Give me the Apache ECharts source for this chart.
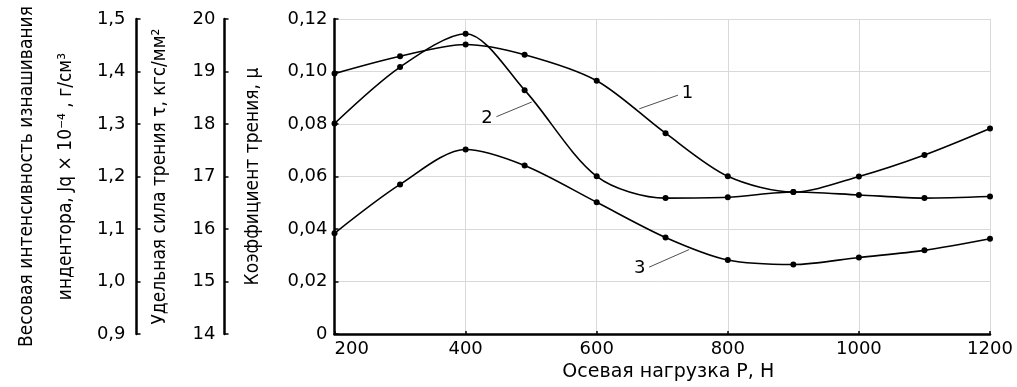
<!DOCTYPE html>
<html>
<head>
<meta charset="utf-8">
<script src="https://cdn.jsdelivr.net/npm/echarts@6/dist/echarts.min.js"></script>
<style>
  html, body { margin: 0; padding: 0; background: #fff; }
  #chart { width: 1017px; height: 387px; }
</style>
</head>
<body>
<div id="chart"></div>
<script>
// values
const loads = [200, 300, 400, 490, 600, 705, 800, 900, 1000, 1100, 1200];
const curve1 = [0.0992, 0.1058, 0.1103, 0.1064, 0.0965, 0.0765, 0.0601, 0.0541, 0.0600, 0.0682, 0.0783];
const curve2 = [0.0802, 0.1017, 0.1144, 0.0929, 0.0601, 0.0518, 0.0521, 0.0541, 0.0530, 0.0518, 0.0524];
const curve3 = [0.0384, 0.0570, 0.0703, 0.0642, 0.0502, 0.0368, 0.0282, 0.0265, 0.0292, 0.0319, 0.0363];

// leader lines for the curve numbers (from curve -> to label)
const callouts = [
  { name: '1', from: [665, 0.0858], to: [724, 0.0910] },
  { name: '2', from: [501, 0.0884], to: [447, 0.0828] },
  { name: '3', from: [741, 0.0322], to: [680, 0.0255] }
];

const tickFont = 'DejaVu Sans';
const nameFont = '"Liberation Sans Narrow", "DejaVu Sans Condensed", "Liberation Sans", sans-serif';

const comma = (v, d) => v === 0 ? '0' : v.toFixed(d).replace('.', ',');

const chart = echarts.init(document.getElementById('chart'), null, { renderer: 'canvas' });

const axisLine = { show: true, onZero: false, lineStyle: { color: '#000', width: 2.5 } };
const tickLabel = { color: '#000', fontFamily: tickFont, fontSize: 18 };

function sideAxis(min, max, interval, offset, margin, name, nameGap, lineHeight) {
  return {
    type: 'value', position: 'left', offset: offset,
    min: min, max: max, interval: interval,
    axisLine: axisLine,
    axisTick: { show: true, inside: true, length: 4, lineStyle: { color: '#000', width: 1.5 } },
    axisLabel: Object.assign({ margin: margin, formatter: v => interval < 1 ? comma(v, 1) : String(v) }, tickLabel),
    splitLine: { show: false },
    name: name, nameLocation: 'middle', nameRotate: 90, nameGap: nameGap,
    nameTextStyle: { color: '#000', fontFamily: nameFont, fontSize: 19, lineHeight: lineHeight }
  };
}

const series = [curve1, curve2, curve3].map((vals, i) => ({
  type: 'line',
  name: String(i + 1),
  data: loads.map((x, j) => [x, vals[j]]),
  smooth: 0.3,
  symbol: 'circle',
  symbolSize: 6,
  itemStyle: { color: '#000' },
  lineStyle: { color: '#000', width: 1.6 },
  z: 3
}));

series.push({
  type: 'line',
  data: [],
  markLine: {
    silent: true,
    symbol: ['none', 'none'],
    animation: false,
    lineStyle: { color: '#222', width: 0.8, type: 'solid' },
    label: {
      show: true, position: 'end', distance: 4,
      color: '#000', fontFamily: tickFont, fontSize: 18,
      formatter: p => p.name
    },
    data: callouts.map(c => [
      { name: c.name, coord: c.from },
      { coord: c.to }
    ])
  }
});

chart.setOption({
  animation: false,
  grid: { left: 330, right: 27, top: 19, bottom: 45.5 },
  xAxis: {
    type: 'value', min: 200, max: 1200, interval: 200,
    axisLine: axisLine,
    axisTick: { show: true, inside: true, length: 3, lineStyle: { color: '#000', width: 1.5 } },
    axisLabel: Object.assign({ margin: 6, alignMinLabel: 'left', formatter: v => String(v) }, tickLabel),
    splitLine: { show: true, lineStyle: { color: '#d9d9d9', width: 1 } },
    name: 'Осевая нагрузка Р, Н', nameLocation: 'middle', nameGap: 26,
    nameTextStyle: { color: '#000', fontFamily: tickFont, fontSize: 19, padding: [0, 0, 0, 12] }
  },
  yAxis: [
    {
      type: 'value', position: 'left', min: 0, max: 0.12, interval: 0.02,
      axisLine: axisLine,
      axisTick: { show: true, inside: true, length: 4, lineStyle: { color: '#000', width: 1.5 } },
      axisLabel: Object.assign({ margin: 7, formatter: v => comma(v, 2) }, tickLabel),
      splitLine: { show: true, lineStyle: { color: '#d9d9d9', width: 1 } },
      name: 'Коэффициент трения, μ', nameLocation: 'middle', nameRotate: 90, nameGap: 72,
      nameTextStyle: { color: '#000', fontFamily: nameFont, fontSize: 19 }
    },
    sideAxis(14, 20, 1, 110, 9, 'Удельная сила трения τ, кгс/мм²', 53, 22),
    sideAxis(0.9, 1.5, 0.1, 198, 11, 'Весовая интенсивность изнашивания\nиндентора, Jq × 10⁻⁴ , г/см³', 50, 39)
  ],
  series: series
});
</script>
</body>
</html>
